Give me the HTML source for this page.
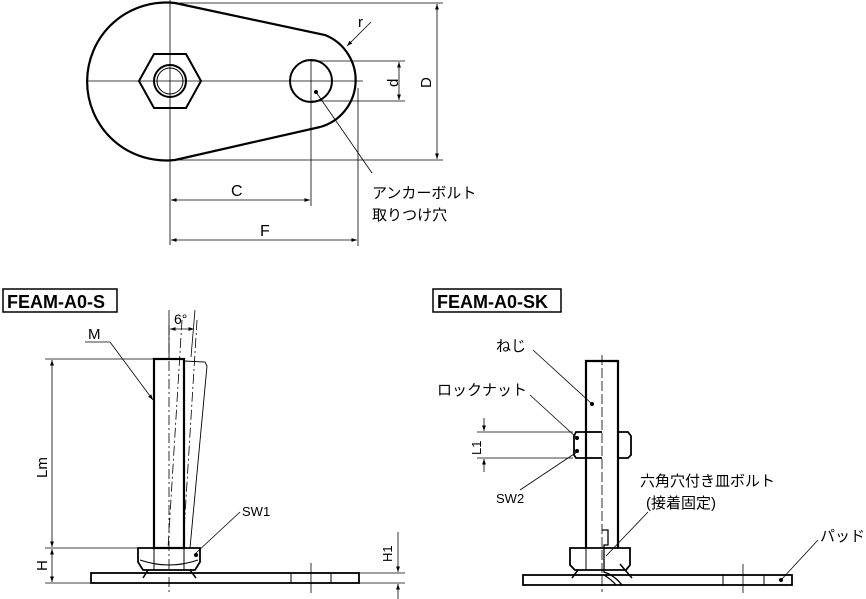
<!DOCTYPE html>
<html><head><meta charset="utf-8"><style>
html,body{margin:0;padding:0;background:#fff;}
svg{display:block;}
text{font-family:"Liberation Sans","Noto Sans CJK JP",sans-serif;fill:#000;}
</style></head><body>
<svg width="866" height="599" viewBox="0 0 866 599" xmlns="http://www.w3.org/2000/svg">
<defs>
<marker id="a" viewBox="0 0 10 10" refX="10" refY="5" markerWidth="7" markerHeight="7" orient="auto-start-reverse"><path d="M0,1.5 L10,5 L0,8.5 z" fill="#000"/></marker>
</defs>
<g fill="none" stroke="#000">
<!-- top view -->
<path d="M175,3 L325,35 A48.6,48.6 0 0 1 320,127 L175,160 A79,79 0 1 1 175,3 z" stroke-width="2.2"/>
<polygon points="139,81 154,54 186,54 201,81 186,108 154,108" stroke-width="2"/>
<circle cx="170" cy="81" r="16" stroke-width="2"/>
<circle cx="170" cy="81" r="13" stroke-width="1"/>
<circle cx="311" cy="81" r="21" stroke-width="2"/>
<g stroke-width="0.8">
<line x1="86" y1="81" x2="363" y2="81"/>
<line x1="170" y1="0" x2="170" y2="245"/>
<line x1="311" y1="60" x2="311" y2="206"/>
<line x1="358" y1="88" x2="358" y2="246"/>
<line x1="175" y1="3" x2="443" y2="3"/>
<line x1="175" y1="160" x2="443" y2="160"/>
<line x1="437" y1="4" x2="437" y2="159" marker-start="url(#a)" marker-end="url(#a)"/>
<line x1="311" y1="61" x2="405" y2="61"/>
<line x1="311" y1="101" x2="405" y2="101"/>
<line x1="399" y1="62" x2="399" y2="100" marker-start="url(#a)" marker-end="url(#a)"/>
<line x1="371" y1="22" x2="347" y2="46" marker-end="url(#a)"/>
<line x1="316" y1="92" x2="372" y2="173"/>
<line x1="171" y1="200" x2="310" y2="200" marker-start="url(#a)" marker-end="url(#a)"/>
<line x1="171" y1="240" x2="357" y2="240" marker-start="url(#a)" marker-end="url(#a)"/>
</g>
<circle cx="316" cy="92" r="1.5" fill="#000"/>
</g>
<text x="358" y="27" font-size="15">r</text>
<text x="0" y="0" font-size="15" transform="translate(398,87) rotate(-90)">d</text>
<text x="0" y="0" font-size="15" transform="translate(431,88) rotate(-90)">D</text>
<text x="231" y="196" font-size="16">C</text>
<text x="260" y="236" font-size="16">F</text>
<text x="372" y="198" font-size="15">アンカーボルト</text>
<text x="372" y="220" font-size="15">取りつけ穴</text>

<!-- FEAM-A0-S -->
<rect x="3" y="289" width="114" height="23" fill="none" stroke="#000" stroke-width="1.5"/>
<text x="7" y="308" font-size="18" font-weight="bold">FEAM-A0-S</text>
<g fill="none" stroke="#000">
<rect x="154" y="359" width="30" height="189" stroke-width="2.2"/>
<path d="M184,361 L205,362 L207,366 L190,548" stroke-width="0.9"/>
<g stroke-width="0.8" stroke-dasharray="10,3,2,3">
<line x1="169" y1="325" x2="169" y2="592"/>
<line x1="182" y1="320" x2="168" y2="548"/>
<line x1="197" y1="320" x2="183" y2="548"/>
</g>
<line x1="169" y1="310" x2="169" y2="357" stroke-width="0.8"/>
<line x1="195" y1="310" x2="191" y2="357" stroke-width="0.8"/>
<line x1="170" y1="329" x2="194" y2="329" stroke-width="0.8" marker-start="url(#a)" marker-end="url(#a)"/>
<path d="M138,548 L200,548 L200,562 L195,570 L143,570 L138,562 z" stroke-width="1.8"/>
<line x1="154" y1="548" x2="154" y2="570" stroke-width="1"/>
<line x1="184" y1="548" x2="184" y2="570" stroke-width="1"/>
<path d="M148,570 L143,578 M190,570 L196,578" stroke-width="1.5"/>
<path d="M140,560 Q169,570 198,560" stroke-width="1"/>
<rect x="91" y="573" width="268" height="10" stroke-width="1.8"/>
<line x1="291" y1="573" x2="291" y2="583" stroke-width="1"/>
<line x1="331" y1="573" x2="331" y2="583" stroke-width="1"/>
<line x1="311" y1="563" x2="311" y2="593" stroke-width="0.8"/>
<g stroke-width="0.8">
<line x1="45" y1="359" x2="153" y2="359"/>
<line x1="45" y1="548" x2="137" y2="548"/>
<line x1="45" y1="583" x2="90" y2="583"/>
<line x1="52" y1="360" x2="52" y2="547" marker-start="url(#a)" marker-end="url(#a)"/>
<line x1="52" y1="549" x2="52" y2="582" marker-start="url(#a)" marker-end="url(#a)"/>
<line x1="85" y1="342" x2="110" y2="342"/>
<line x1="110" y1="342" x2="153" y2="400" marker-end="url(#a)"/>
<line x1="240" y1="512" x2="196" y2="553"/>
<line x1="359" y1="573" x2="405" y2="573"/>
<line x1="359" y1="583" x2="405" y2="583"/>
<line x1="398" y1="532" x2="398" y2="572" marker-end="url(#a)"/>
<line x1="398" y1="599" x2="398" y2="584" marker-end="url(#a)"/>
</g>
<circle cx="196" cy="555" r="1.5" fill="#000"/>
</g>
<text x="88" y="339" font-size="15">M</text>
<text x="174" y="324" font-size="14">6°</text>
<text x="0" y="0" font-size="15" transform="translate(47,478) rotate(-90)">Lm</text>
<text x="0" y="0" font-size="15" transform="translate(47,571) rotate(-90)">H</text>
<text x="0" y="0" font-size="13" transform="translate(392,562) rotate(-90)">H1</text>
<text x="242" y="516" font-size="13">SW1</text>

<!-- FEAM-A0-SK -->
<rect x="433" y="289" width="128" height="23" fill="none" stroke="#000" stroke-width="1.5"/>
<text x="437" y="308" font-size="18" font-weight="bold">FEAM-A0-SK</text>
<g fill="none" stroke="#000">
<path d="M586,548 L586,361 L618,361 L618,548" stroke-width="2.2"/>
<line x1="602" y1="355" x2="602" y2="592" stroke-width="0.8" stroke-dasharray="10,3"/>
<path d="M586,432 L576,432 L574,436 L574,455 L576,458 L586,458" stroke-width="1.8"/>
<line x1="586" y1="432" x2="602" y2="432" stroke-width="1.8"/>
<line x1="586" y1="458" x2="602" y2="458" stroke-width="1.8"/>
<path d="M618,432 L628,432 L631,436 L631,455 L628,458 L618,458" stroke-width="1.8"/>
<path d="M570,548 L630,548 L630,565 L626,570 L575,570 L570,565 z" stroke-width="1.8"/>
<line x1="586" y1="548" x2="586" y2="570" stroke-width="1"/>
<path d="M578,570 L572,578 M620,564 Q625,570 632,578" stroke-width="1.5"/>
<path d="M602,530 L608,530 L608,545 L604,545 L604,572 Q614,575 622,585 M604,575 Q612,580 616,585" stroke-width="1.3"/>
<rect x="523" y="575" width="269" height="10" stroke-width="1.8"/>
<line x1="723" y1="575" x2="723" y2="585" stroke-width="1"/>
<line x1="764" y1="575" x2="764" y2="585" stroke-width="1"/>
<line x1="743" y1="564" x2="743" y2="593" stroke-width="0.8"/>
<g stroke-width="0.8">
<line x1="533" y1="350" x2="592" y2="404"/>
<line x1="530" y1="395" x2="577" y2="438"/>
<line x1="520" y1="490" x2="577" y2="452"/>
<line x1="477" y1="432" x2="573" y2="432"/>
<line x1="477" y1="458" x2="573" y2="458"/>
<line x1="484" y1="418" x2="484" y2="431" marker-end="url(#a)"/>
<line x1="484" y1="472" x2="484" y2="459" marker-end="url(#a)"/>
<line x1="648" y1="512" x2="606" y2="556"/>
<line x1="818" y1="540" x2="781" y2="580"/>
</g>
<circle cx="592" cy="404" r="1.5" fill="#000"/>
<circle cx="577" cy="438" r="1.5" fill="#000"/>
<circle cx="577" cy="451" r="1.5" fill="#000"/>
<circle cx="781" cy="580" r="1.5" fill="#000"/>
</g>
<text x="496" y="351" font-size="15">ねじ</text>
<text x="437" y="395" font-size="15">ロックナット</text>
<text x="0" y="0" font-size="13" transform="translate(481,455) rotate(-90)">L1</text>
<text x="496" y="503" font-size="13">SW2</text>
<text x="640" y="486" font-size="15">六角穴付き皿ボルト</text>
<text x="646" y="508" font-size="15">(接着固定)</text>
<text x="820" y="541" font-size="15">パッド</text>
</svg>
</body></html>
